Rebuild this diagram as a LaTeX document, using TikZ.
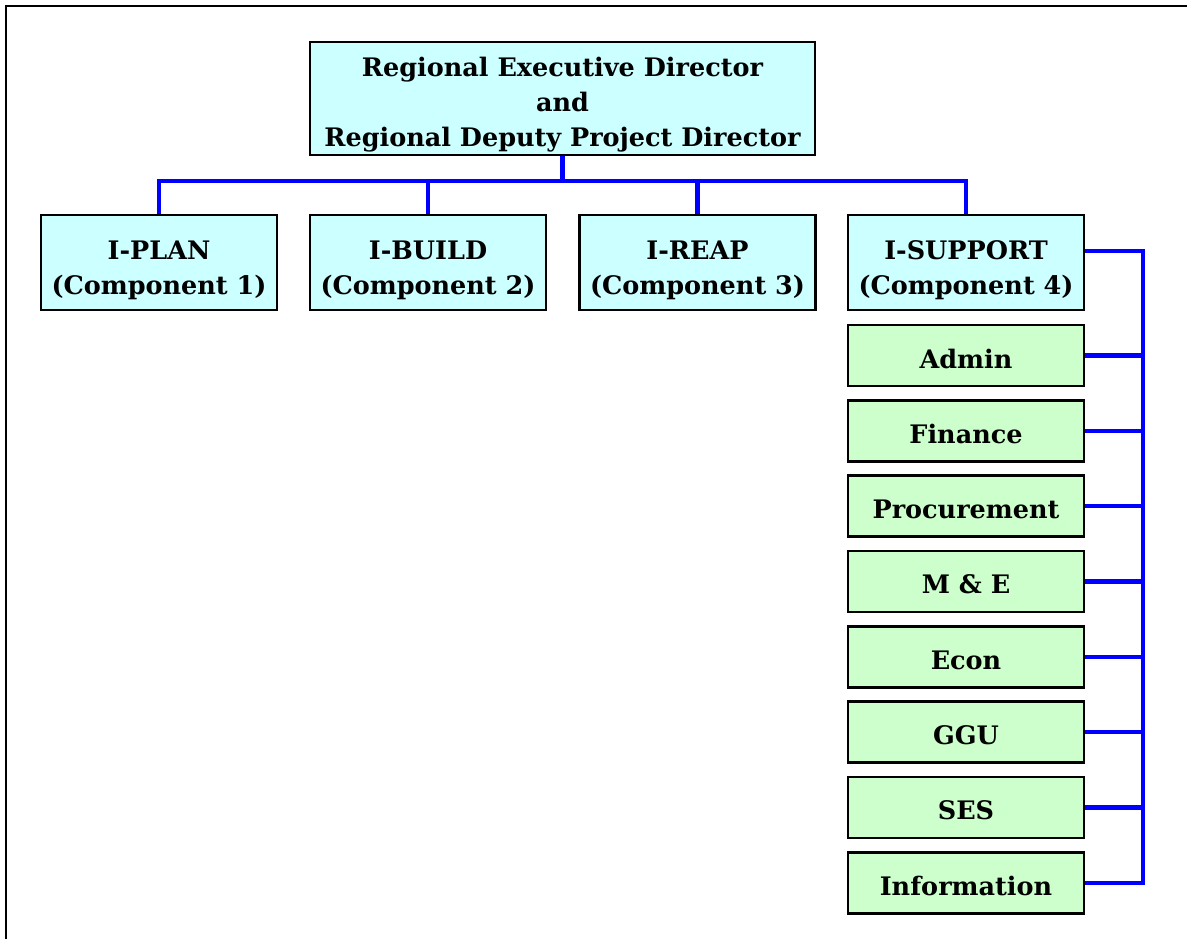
\documentclass[tikz,border=0pt]{standalone}
\usepackage{fontspec}
\setmainfont{DejaVu Serif}
\begin{document}
\begin{tikzpicture}[x=1pt,y=-1pt,
  box/.style={draw=black,line width=2.2pt,inner sep=0pt},
  head/.style={box,fill=headfill,minimum width=505pt,minimum height=113pt},
  comp/.style={box,fill=headfill,minimum width=236pt,minimum height=95pt},
  unit/.style={box,fill=unitfill,minimum width=236pt,minimum height=61pt},
  txt/.style={align=center,inner sep=0pt,
    font=\fontsize{25.5}{35}\selectfont\bfseries},
  link/.style={draw=linkblue,line width=4.5pt}]
\definecolor{headfill}{HTML}{CCFFFF}
\definecolor{unitfill}{HTML}{CCFFCC}
\definecolor{linkblue}{HTML}{0000FF}
\useasboundingbox (0,0) rectangle (1187,939);
% outer frame (top and left edges)
\draw[line width=1.8pt] (6,939) -- (6,6) -- (1187,6);

% director
\node[head] (top) at (562.5,98.5) {};
\node[txt] (top-t) at ([yshift=-6pt]top.center)
  {Regional Executive Director\\and\\Regional Deputy Project Director};

% components
\foreach \n/\x/\a/\b in {plan/159/I-PLAN/1, build/428/I-BUILD/2,
                         reap/697.5/I-REAP/3, support/966/I-SUPPORT/4}{
  \node[comp] (\n) at (\x,262.5) {};
  \node[txt] (\n-t) at ([yshift=-8pt]\n.center) {\a\\(Component \b)};
}

% support units
\foreach \n/\y/\t in {admin/355.5/Admin, finance/431/Finance,
                      proc/506/Procurement, me/581.5/M \& E,
                      econ/657/Econ, ggu/732/GGU, ses/807.5/SES,
                      info/883/Information}{
  \node[unit] (\n) at (966,\y) {};
  \node[txt] (\n-t) at ([yshift=-3pt]\n.center) {\t};
}

% bus lines
\coordinate (bus) at (0,181);
\coordinate (rbus) at (1143,0);

\draw[link] (top.south) -- (top.south |- bus);
\draw[link] (plan.north) |- (support.north |- bus) -- (support.north);
\draw[link] (build.north) -- (build.north |- bus);
\draw[link] (reap.north) -- (reap.north |- bus);

\coordinate (sout) at ([yshift=11.5pt]support.east);
\draw[link] (sout) -| (rbus |- info.east) -- (info.east);
\foreach \u in {admin,finance,proc,me,econ,ggu,ses}
  \draw[link] (\u.east) -- (\u.east -| rbus);
\end{tikzpicture}
\end{document}
